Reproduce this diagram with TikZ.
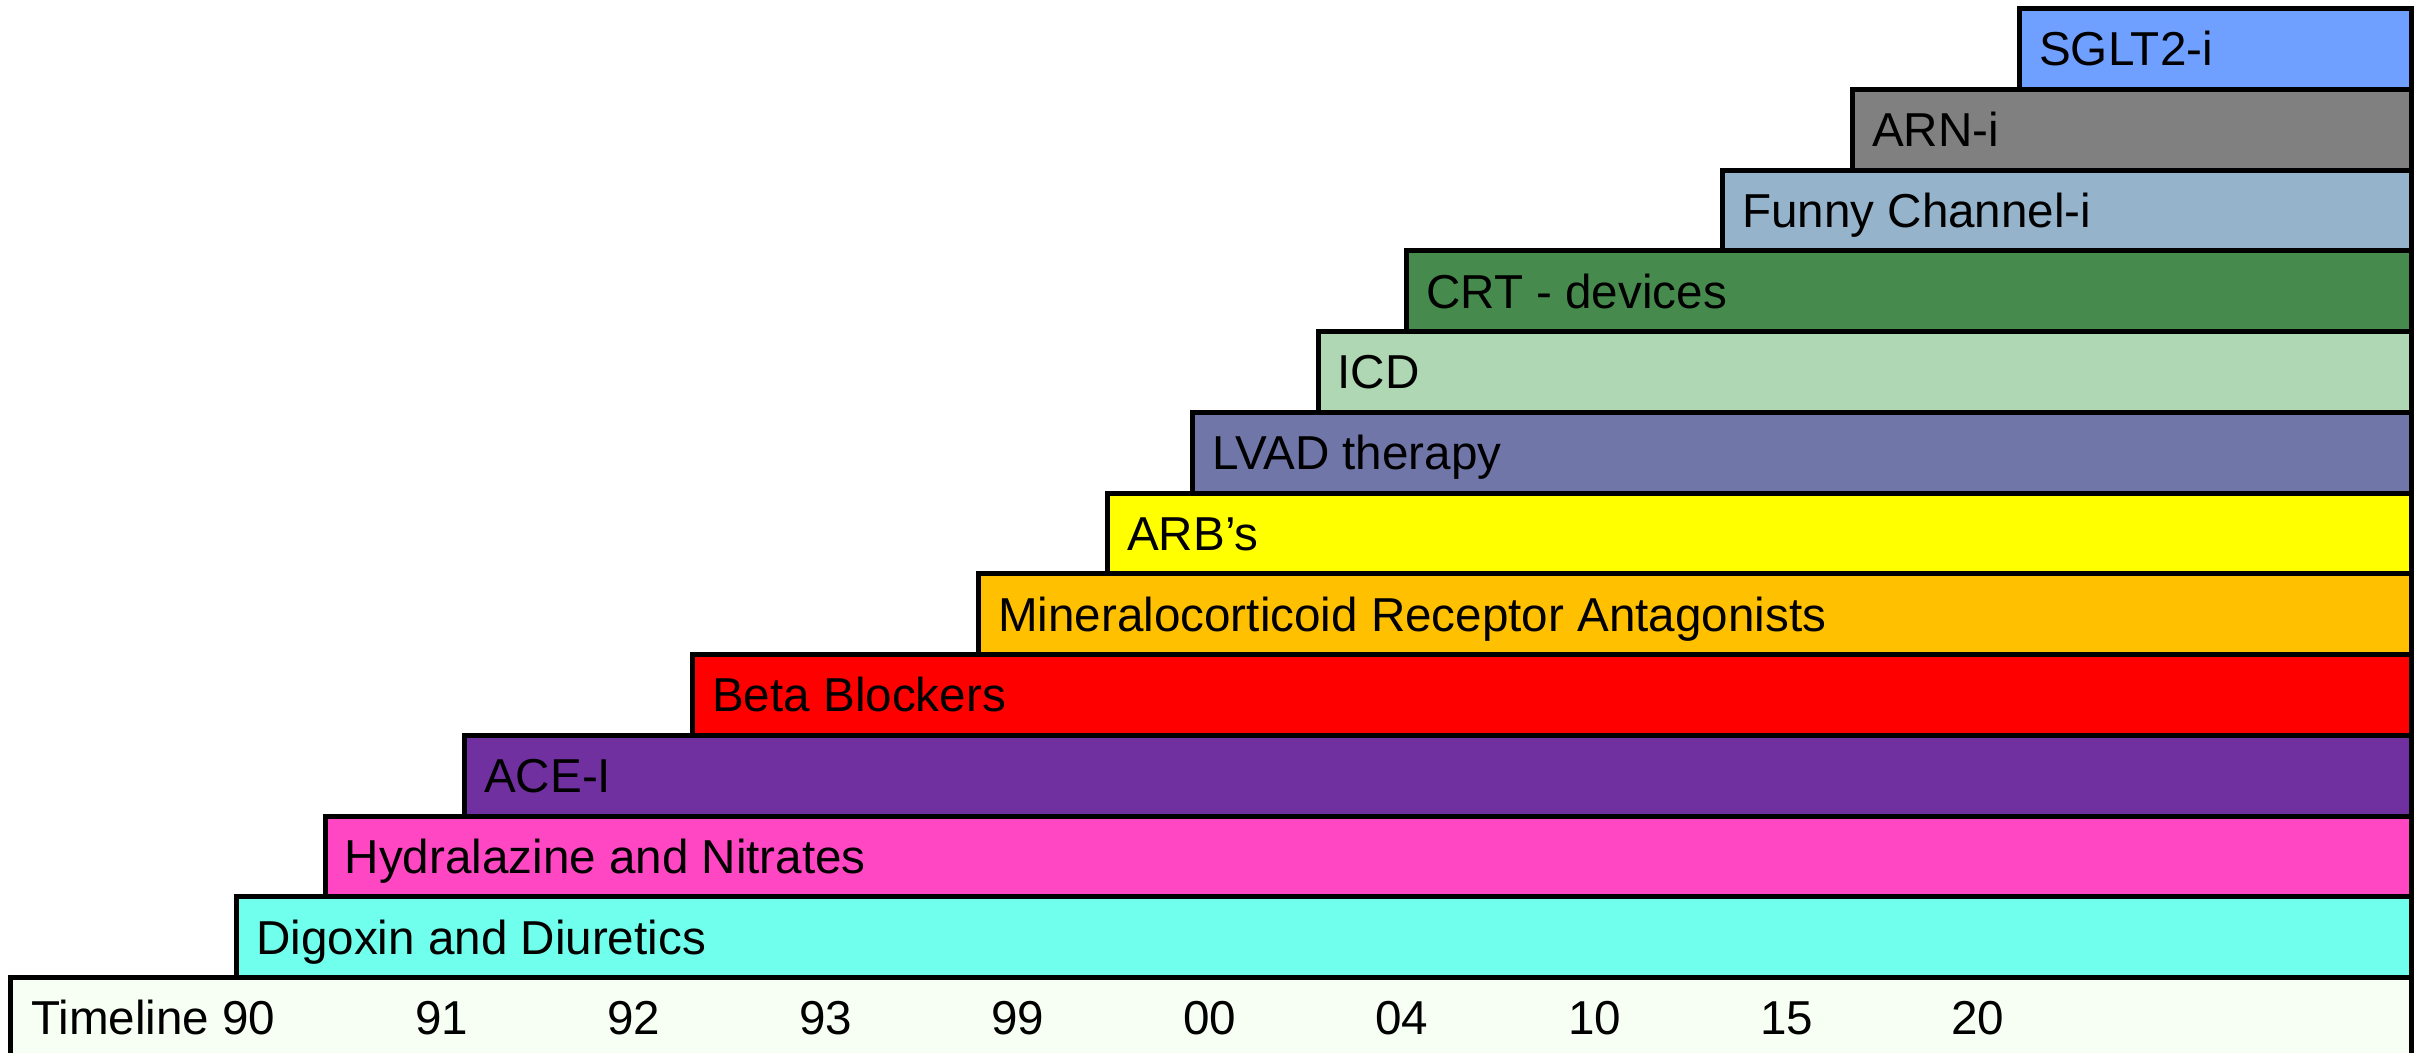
\documentclass[tikz,border=0pt]{standalone}
\usepackage{fontspec}
\setmainfont{Liberation Sans}
\definecolor{cSGLT}{RGB}{111,159,255}
\definecolor{cARN}{RGB}{128,128,128}
\definecolor{cFunny}{RGB}{149,179,203}
\definecolor{cCRT}{RGB}{70,139,77}
\definecolor{cICD}{RGB}{175,215,179}
\definecolor{cLVAD}{RGB}{112,118,167}
\definecolor{cARB}{RGB}{255,255,0}
\definecolor{cMRA}{RGB}{255,192,0}
\definecolor{cBeta}{RGB}{255,0,0}
\definecolor{cACE}{RGB}{112,48,160}
\definecolor{cHyd}{RGB}{255,71,196}
\definecolor{cDig}{RGB}{112,255,236}
\definecolor{cTime}{RGB}{247,255,244}
\tikzset{
  bar/.style={draw=black, line width=5pt},
  lbl/.style={anchor=base west, inner sep=0pt, font=\fontsize{47.6}{56}\selectfont},
}
\begin{document}
\begin{tikzpicture}[x=1pt,y=-1pt]
\useasboundingbox[fill=white] (0,0) rectangle (2414,1052);
% rows: top centre = 8.5 + 80.75 i
\def\R{2411.5}
\foreach \i/\xl/\col/\nm/\txt in {
  0/2019.5/cSGLT/sglt/{SGLT2-i},
  1/1852.5/cARN/arn/{ARN-i},
  2/1722.5/cFunny/funny/{Funny Channel-i},
  3/1406.5/cCRT/crt/{CRT - devices},
  4/1318/cICD/icd/{ICD},
  5/1192.5/cLVAD/lvad/{LVAD therapy},
  6/1107.5/cARB/arb/{ARB’s},
  7/978.5/cMRA/mra/{Mineralocorticoid Receptor Antagonists},
  8/692.5/cBeta/beta/{Beta Blockers},
  9/464.5/cACE/ace/{ACE-I},
  10/325/cHyd/hyd/{Hydralazine and Nitrates},
  11/236.5/cDig/dig/{Digoxin and Diuretics}}{
  \pgfmathsetmacro\t{8.5+80.75*\i}
  \pgfmathsetmacro\b{\t+80.75}
  \pgfmathsetmacro\bl{\t+57.4}
  \pgfmathsetmacro\tx{\xl+19.5}
  \path[bar, fill=\col] (\xl,\t) rectangle (\R,\b);
  \node[lbl] (\nm) at (\tx,\bl) {\txt};
}
% timeline
\path[bar, fill=cTime] (10.5,977.5) rectangle (\R,1058.25);
\node[lbl] (tl) at (31,1034.5) {Timeline 90};
\foreach \x/\y/\nm in {415/91/t91, 607/92/t92, 799/93/t93, 991/99/t99, 1183/00/t00, 1375/04/t04, 1568/10/t10, 1760/15/t15, 1951/20/t20}{
  \node[lbl] (\nm) at (\x,1034.5) {\y};
}
\end{tikzpicture}
\end{document}
